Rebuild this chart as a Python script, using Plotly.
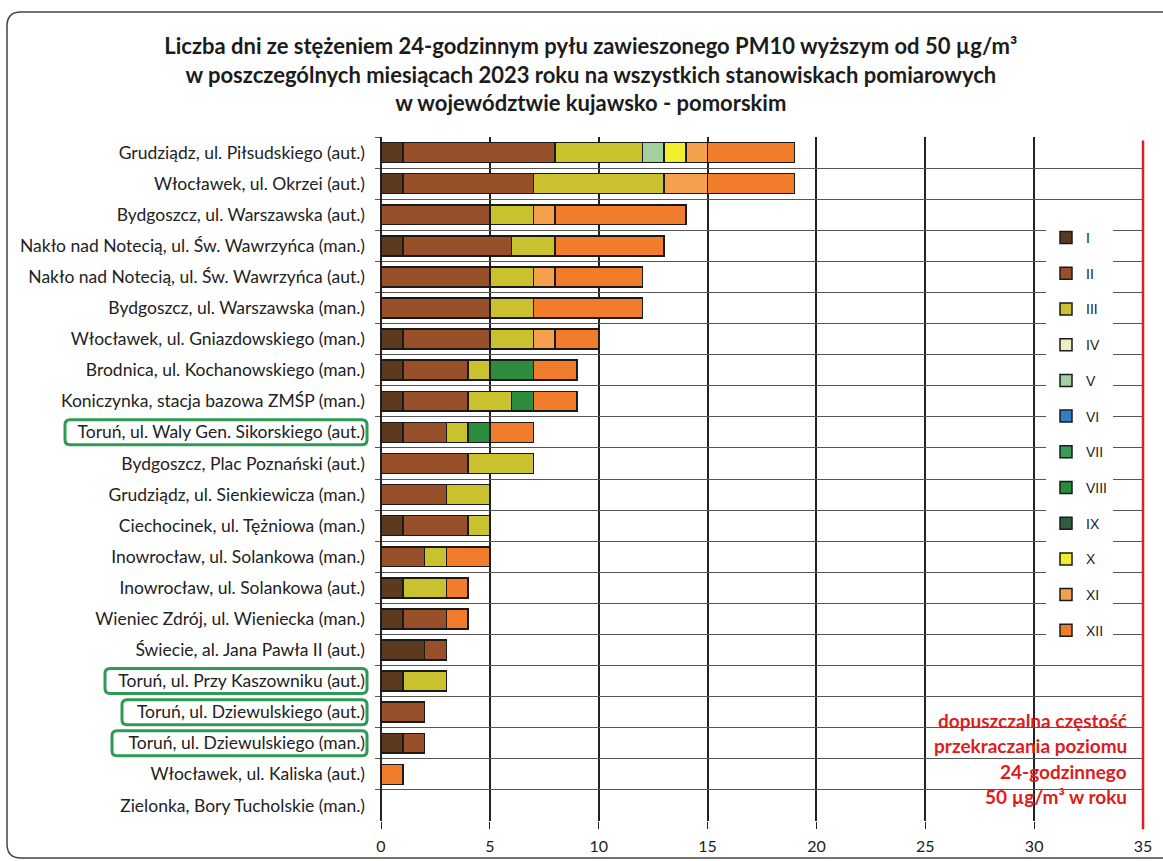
"""Liczba dni z przekroczeniem PM10 w 2023 r. - wykres słupkowy skumulowany."""

import plotly.graph_objects as go

stations = [
    "Grudziądz, ul. Piłsudskiego (aut.)",
    "Włocławek, ul. Okrzei (aut.)",
    "Bydgoszcz, ul. Warszawska (aut.)",
    "Nakło nad Notecią, ul. Św. Wawrzyńca (man.)",
    "Nakło nad Notecią, ul. Św. Wawrzyńca (aut.)",
    "Bydgoszcz, ul. Warszawska (man.)",
    "Włocławek, ul. Gniazdowskiego (man.)",
    "Brodnica, ul. Kochanowskiego (man.)",
    "Koniczynka, stacja bazowa ZMŚP (man.)",
    "Toruń, ul. Waly Gen. Sikorskiego (aut.)",
    "Bydgoszcz, Plac Poznański (aut.)",
    "Grudziądz, ul. Sienkiewicza (man.)",
    "Ciechocinek, ul. Tężniowa (man.)",
    "Inowrocław, ul. Solankowa (man.)",
    "Inowrocław, ul. Solankowa (aut.)",
    "Wieniec Zdrój, ul. Wieniecka (man.)",
    "Świecie, al. Jana Pawła II (aut.)",
    "Toruń, ul. Przy Kaszowniku (aut.)",
    "Toruń, ul. Dziewulskiego (aut.)",
    "Toruń, ul. Dziewulskiego (man.)",
    "Włocławek, ul. Kaliska (aut.)",
    "Zielonka, Bory Tucholskie (man.)",
]

months = ["I", "II", "III", "IV", "V", "VI", "VII", "VIII", "IX", "X", "XI", "XII"]

days_I = [1, 1, 0, 1, 0, 0, 1, 1, 1, 1, 0, 0, 1, 0, 1, 1, 2, 1, 0, 1, 0, 0]
days_II = [7, 6, 5, 5, 5, 5, 4, 3, 3, 2, 4, 3, 3, 2, 0, 2, 1, 0, 2, 1, 0, 0]
days_III = [4, 6, 2, 2, 2, 2, 2, 1, 2, 1, 3, 2, 1, 1, 2, 0, 0, 2, 0, 0, 0, 0]
days_IV = [0] * 22
days_V = [1, 0, 0, 0, 0, 0, 0, 0, 0, 0, 0, 0, 0, 0, 0, 0, 0, 0, 0, 0, 0, 0]
days_VI = [0] * 22
days_VII = [0] * 22
days_VIII = [0, 0, 0, 0, 0, 0, 0, 2, 1, 1, 0, 0, 0, 0, 0, 0, 0, 0, 0, 0, 0, 0]
days_IX = [0] * 22
days_X = [1, 0, 0, 0, 0, 0, 0, 0, 0, 0, 0, 0, 0, 0, 0, 0, 0, 0, 0, 0, 0, 0]
days_XI = [1, 2, 1, 0, 1, 0, 1, 0, 0, 0, 0, 0, 0, 0, 0, 0, 0, 0, 0, 0, 0, 0]
days_XII = [4, 4, 6, 5, 4, 5, 2, 2, 2, 2, 0, 0, 0, 2, 1, 1, 0, 0, 0, 0, 1, 0]

month_days = [days_I, days_II, days_III, days_IV, days_V, days_VI,
              days_VII, days_VIII, days_IX, days_X, days_XI, days_XII]

colors = ["#5c3a1f", "#98502a", "#c9c22e", "#eeeec2", "#a3d0a0", "#2f7fc1",
          "#3a9a5a", "#2b8c3e", "#2f5e3e", "#f2ee2e", "#f5a04c", "#f07c2c"]

limit_days = 35
limit_text = ["dopuszczalna częstość", "przekraczania poziomu",
              "24-godzinnego", "50 µg/m³ w roku"]

# highlighted Toruń stations: left edge of the green frame in px
highlight = {
    "Toruń, ul. Waly Gen. Sikorskiego (aut.)": 65,
    "Toruń, ul. Przy Kaszowniku (aut.)": 105,
    "Toruń, ul. Dziewulskiego (aut.)": 122,
    "Toruń, ul. Dziewulskiego (man.)": 112,
}

W, H = 1163, 861
L, R, T, B = 381, 20, 137, 40
PW, PH = W - L - R, H - T - B


def px(x):
    return (x - L) / PW


def py(y):
    return (H - B - y) / PH


def rounded_rect(x0, y0, x1, y1, r):
    rx, ry = r / PW, r / PH
    a, b, c, d = px(x0), py(y0), px(x1), py(y1)
    return (f"M{a + rx},{b} L{c - rx},{b} Q{c},{b} {c},{b - ry} "
            f"L{c},{d + ry} Q{c},{d} {c - rx},{d} L{a + rx},{d} "
            f"Q{a},{d} {a},{d + ry} L{a},{b - ry} Q{a},{b} {a + rx},{b} Z")


fig = go.Figure()

for name, vals, col in zip(months, month_days, colors):
    fig.add_trace(go.Bar(
        y=stations,
        x=[v if v else None for v in vals],
        orientation="h",
        name=name,
        legendgroup=name,
        marker=dict(color=col, line=dict(color="#1a1a1a", width=1.5)),
    ))

shapes = [
    # outer frame
    dict(type="path", xref="paper", yref="paper",
         path=rounded_rect(7, 12, 1190, 858, 14),
         line=dict(color="#444444", width=1.5), layer="below"),
    # limit line (35 days = right edge of the axis range)
    dict(type="line", xref="paper", yref="paper", x0=1, x1=1,
         y0=-0.012, y1=0.995, line=dict(color="#e02020", width=2.5)),
]

row_h = PH / len(stations)
for name, left in highlight.items():
    i = stations.index(name)
    cy = T + (i + 0.5) * row_h
    shapes.append(dict(type="path", xref="paper", yref="paper",
                       path=rounded_rect(left, cy - 12.5, 367, cy + 12.5, 5),
                       line=dict(color="#2e9a55", width=3)))

annotations = []
for k, line in enumerate(limit_text):
    annotations.append(dict(
        x=limit_days, xref="x", y=py(720), yref="paper",
        text=f"<b>{line}</b>", showarrow=False,
        xanchor="right", yanchor="middle", xshift=-14, yshift=-k * 25.5,
        font=dict(family="Lato", size=19, color="#e01b1b"),
    ))

fig.update_layout(
    width=W,
    height=H,
    margin=dict(l=L, r=R, t=T, b=B),
    paper_bgcolor="white",
    plot_bgcolor="white",
    barmode="stack",
    bargap=0.36,
    title=dict(
        text=("<b>Liczba dni ze stężeniem 24-godzinnym pyłu zawieszonego PM10 "
              "wyższym od 50 µg/m³</b><br><b>w poszczególnych miesiącach 2023 roku "
              "na wszystkich stanowiskach pomiarowych</b><br><b>w województwie "
              "kujawsko - pomorskim</b>"),
        x=0.508, xanchor="center", y=0.937, yanchor="top",
        font=dict(family="Lato", size=22, color="#1c1c1c"),
    ),
    xaxis=dict(
        range=[0, limit_days],
        dtick=5,
        showgrid=True,
        gridcolor="#222222",
        gridwidth=1.5,
        zeroline=True,
        zerolinecolor="#222222",
        zerolinewidth=1.5,
        ticks="outside",
        ticklen=7,
        tickcolor="#222222",
        ticklabelstandoff=4,
        automargin=False,
        tickfont=dict(family="Lato", size=16, color="#1c1c1c"),
        fixedrange=True,
    ),
    yaxis=dict(
        autorange="reversed",
        tickson="boundaries",
        showgrid=True,
        gridcolor="#555555",
        gridwidth=1,
        ticks="outside",
        ticklen=5,
        tickcolor="#555555",
        ticklabelstandoff=15,
        automargin=False,
        tickfont=dict(family="Lato", size=17.5, color="#222222"),
        fixedrange=True,
    ),
    legend=dict(
        x=px(1046), xanchor="left",
        y=py(222), yanchor="top",
        bgcolor="white",
        tracegroupgap=14.5,
        itemwidth=30,
        font=dict(family="Liberation Sans", size=14, color="#222222"),
    ),
    shapes=shapes,
    annotations=annotations,
)

fig.write_html(
    "out.html",
    config={"displayModeBar": False},
    post_script=("document.body.style.margin='0';"
                 "document.body.style.overflow='hidden';"
                 "document.documentElement.style.overflow='hidden';"),
)
